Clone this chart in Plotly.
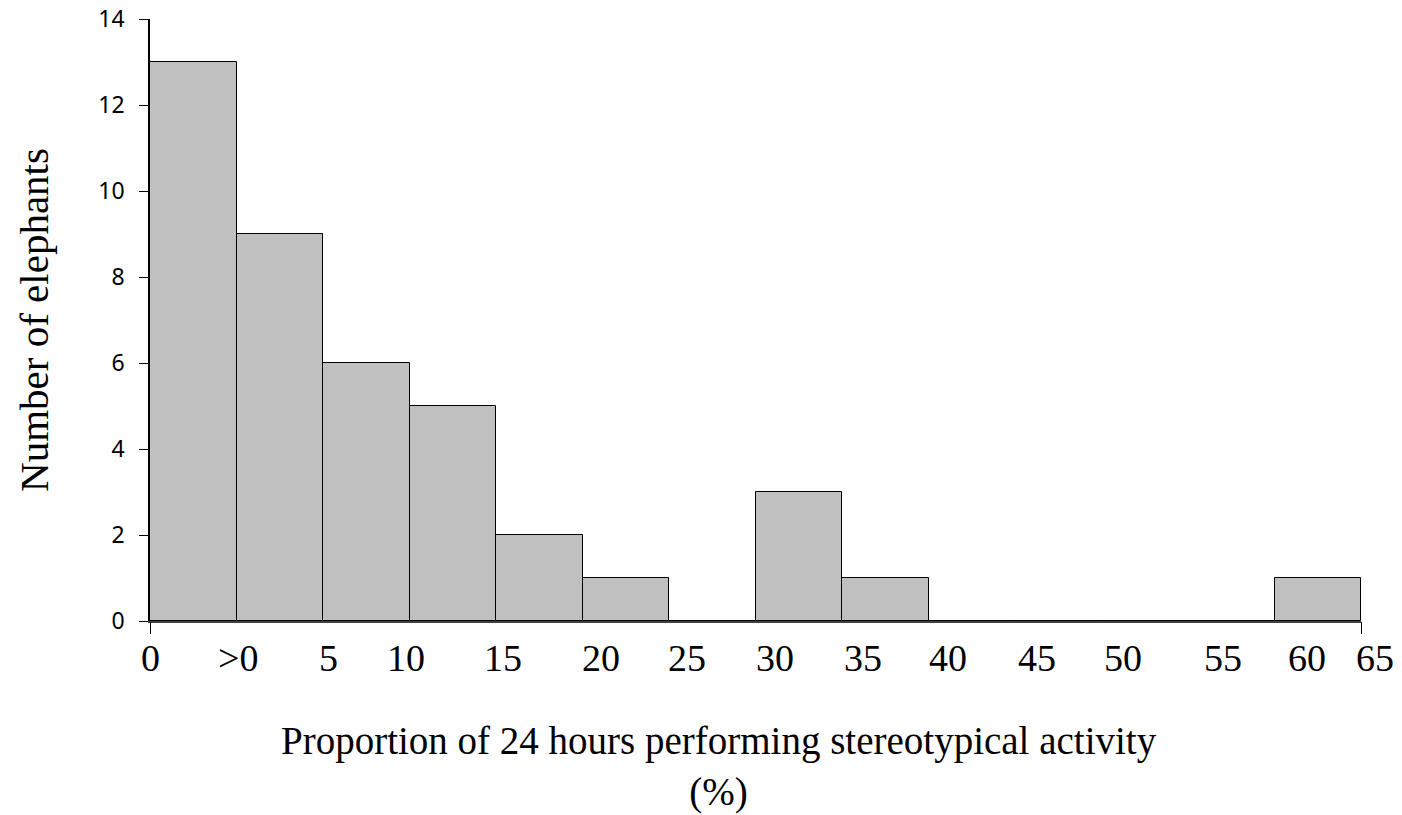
"""Histogram: proportion of 24 hours elephants spend on stereotypical activity."""

import plotly.graph_objects as go

# one bar per bin, bins left to right (bin units on the x axis)
bin_counts = [13, 9, 6, 5, 2, 1, 0, 3, 1, 0, 0, 0, 0, 1]
bin_centers = [i + 0.5 for i in range(len(bin_counts))]
n_bins = len(bin_counts)

# x labels, placed where they sit in the original (bin units)
tick_labels = ["0", ">0", "5", "10", "15", "20", "25", "30",
               "35", "40", "45", "50", "55", "60", "65"]
tick_pos = [0.0, 1.02, 2.06, 2.96, 4.08, 5.21, 6.21, 7.23,
            8.24, 9.23, 10.26, 11.25, 12.41, 13.38, 14.16]

y_ticks = [0, 2, 4, 6, 8, 10, 12, 14]

SERIF = "Liberation Serif, Times New Roman, serif"

fig = go.Figure()
fig.add_trace(
    go.Bar(
        x=bin_centers,
        y=bin_counts,
        width=1,
        marker=dict(color="#c0c0c0", line=dict(color="black", width=1)),
        showlegend=False,
        hoverinfo="y",
    )
)
# invisible trace so the overlay axis (end ticks only) gets drawn
fig.add_trace(
    go.Scatter(x=[0, n_bins], y=[0, 0], xaxis="x2", mode="lines",
               line=dict(width=0), showlegend=False, hoverinfo="skip")
)

# "x domain" lets the last label sit just past the axis end
for label, pos in zip(tick_labels, tick_pos):
    fig.add_annotation(
        x=pos / n_bins, y=0, xref="x domain", yref="paper", text=label,
        showarrow=False, xanchor="center", yanchor="middle", yshift=-37,
        font=dict(family=SERIF, size=38, color="black"),
    )

fig.add_annotation(
    x=0.47, y=0, xref="paper", yref="paper",
    text="Proportion of 24 hours performing stereotypical activity<br>(%)",
    showarrow=False, xanchor="center", yanchor="top", yshift=-96,
    font=dict(family=SERIF, size=39, color="black"),
)

fig.update_layout(
    width=1402,
    height=815,
    margin=dict(l=150, r=41, t=19, b=194),
    paper_bgcolor="white",
    plot_bgcolor="white",
    bargap=0,
    xaxis=dict(
        range=[0, n_bins],
        showticklabels=False,
        ticks="",
        showgrid=False,
        zeroline=False,
        showline=True,
        linecolor="#404040",
        linewidth=1.5,
        automargin=False,
    ),
    xaxis2=dict(
        range=[0, n_bins],
        overlaying="x",
        side="bottom",
        tickvals=[0, n_bins],
        ticks="outside",
        ticklen=12,
        tickcolor="black",
        tickwidth=1,
        showticklabels=False,
        showgrid=False,
        zeroline=False,
        showline=False,
        automargin=False,
    ),
    yaxis=dict(
        range=[0, 14],
        tickvals=y_ticks,
        ticks="outside",
        ticklen=9,
        tickcolor="black",
        tickwidth=1,
        ticklabelstandoff=10,
        ticklabeloverflow="allow",
        tickfont=dict(family="Noto Sans", size=23, color="black"),
        showgrid=False,
        zeroline=False,
        showline=True,
        linecolor="black",
        linewidth=1.5,
        automargin=False,
        title=dict(
            text="Number of elephants",
            font=dict(family=SERIF, size=41, color="black"),
            standoff=37,
        ),
    ),
)

# drop the page's default 8px body margin so the figure fills the window
fig.write_html(
    "out.html",
    config={"displayModeBar": False},
    post_script="document.body.style.margin = '0';",
)
